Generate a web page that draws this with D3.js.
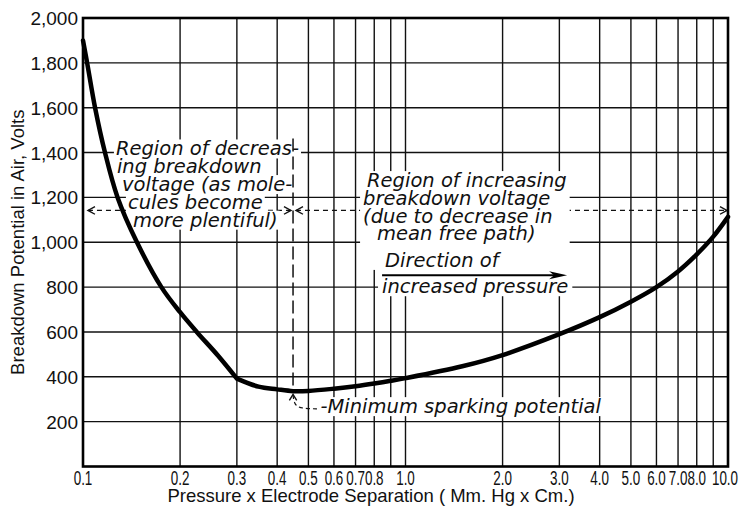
<!DOCTYPE html>
<html>
<head>
<meta charset="utf-8">
<script src="https://cdn.jsdelivr.net/npm/d3@7"></script>
<style>
  html, body { margin: 0; padding: 0; background: #fff; }
  svg { display: block; }
</style>
</head>
<body>
<svg id="chart" width="740" height="507"></svg>
<script>
// Breakdown potential of air against pressure x electrode separation (Paschen curve)
const pressureGap = [0.1, 0.103, 0.109, 0.117, 0.128, 0.147, 0.175, 0.2, 0.226, 0.262, 0.3, 0.35, 0.4, 0.448, 0.5, 0.6, 0.7, 0.8, 0.9, 1.0, 1.5, 2, 3, 4, 5, 6, 7, 8, 9, 10];
const breakdownVolts = [1900, 1800, 1600, 1400, 1200, 1000, 800, 688, 598, 495, 392, 356, 344, 336, 337, 347, 358, 370, 382, 394, 447, 497, 590, 666, 735, 800, 870, 946, 1025, 1113];
// The curve bends sharply where the falling branch meets the flat bottom
const bendPressure = 0.3;

const xGridValues = [0.2, 0.3, 0.4, 0.5, 0.6, 0.7, 0.8, 0.9, 1, 2, 3, 4, 5, 6, 7, 8, 9];
const xTickValues = [0.1, 0.2, 0.3, 0.4, 0.5, 0.6, 0.7, 0.8, 1, 2, 3, 4, 5, 6, 7, 8, 10];
const xTickLabels = ["0.1", "0.2", "0.3", "0.4", "0.5", "0.6", "0.7", "0.8", "1.0", "2.0", "3.0", "4.0", "5.0", "6.0", "7.0", "8.0", "10.0"];
const yTickValues = [200, 400, 600, 800, 1000, 1200, 1400, 1600, 1800, 2000];
const yTickLabels = ["200", "400", "600", "800", "1,000", "1,200", "1,400", "1,600", "1,800", "2,000"];

// Minimum sparking potential and the level of the two-way region arrows
const minimumPressure = 0.448;
const minimumVolts = 336;
const regionArrowVolts = 1142;
const regionDividerTopVolts = 1463;

const decreasingText = ["Region of decreas-", "ing breakdown", "voltage (as mole-", "cules become", "more plentiful)"];
const increasingText = ["Region of increasing", "breakdown voltage", "(due to decrease in", "mean free path)"];
const directionText = ["Direction of", "increased pressure"];
const minimumText = "-Minimum sparking potential";

const W = 740, H = 507;
const margin = { top: 18, right: 12, bottom: 40.5, left: 83 };

const svg = d3.select("#chart");
const x = d3.scaleLog().domain([0.1, 10]).range([margin.left, W - margin.right]);
const y = d3.scaleLinear().domain([0, 2000]).range([H - margin.bottom, margin.top]);

const ink = "#111";
const handFont = "'DejaVu Sans', sans-serif";
const labelFont = "'Liberation Sans', Arial, sans-serif";

const gGrid = svg.append("g");
const gDashH = svg.append("g");
const gBoxes = svg.append("g");
const gDashV = svg.append("g");
const gCurve = svg.append("g");
const gFrame = svg.append("g");
const gText = svg.append("g");
const gArrows = svg.append("g");

// Grid
gGrid.selectAll("line.v").data(xGridValues).join("line")
  .attr("x1", d => x(d)).attr("x2", d => x(d))
  .attr("y1", y(2000)).attr("y2", y(0))
  .attr("stroke", ink).attr("stroke-width", 1.4);
gGrid.selectAll("line.h").data(yTickValues.filter(v => v < 2000)).join("line")
  .attr("x1", x(0.1)).attr("x2", x(10))
  .attr("y1", d => y(d)).attr("y2", d => y(d))
  .attr("stroke", ink).attr("stroke-width", 1.4);

// Open chevron arrowhead with its tip at (tx, ty), pointing along angle (radians)
function chevron(g, tx, ty, angle, len = 8, spread = 0.5) {
  const a1 = angle + Math.PI - spread, a2 = angle + Math.PI + spread;
  g.append("path")
    .attr("d", `M${tx + len * Math.cos(a1)},${ty + len * Math.sin(a1)} L${tx},${ty} L${tx + len * Math.cos(a2)},${ty + len * Math.sin(a2)}`)
    .attr("fill", "none").attr("stroke", ink).attr("stroke-width", 1.4);
}

// Horizontal two-way arrows across both regions
const yArr = y(regionArrowVolts);
const leftSpan = [0.1036, 0.4415], rightSpan = [0.4575, 9.93];
[leftSpan, rightSpan].forEach(s => {
  gDashH.append("line")
    .attr("x1", x(s[0])).attr("x2", x(s[1]))
    .attr("y1", yArr).attr("y2", yArr)
    .attr("stroke", ink).attr("stroke-width", 1.2)
    .attr("stroke-dasharray", "5,4");
  chevron(gDashH, x(s[0]), yArr, Math.PI);
  chevron(gDashH, x(s[1]), yArr, 0);
});

// Vertical divider at the minimum
gDashV.append("line")
  .attr("x1", x(minimumPressure)).attr("x2", x(minimumPressure))
  .attr("y1", y(regionDividerTopVolts)).attr("y2", y(minimumVolts))
  .attr("stroke", ink).attr("stroke-width", 1.5)
  .attr("stroke-dasharray", "13,5");

// Curve: two smooth branches meeting at the bend
const pts = pressureGap.map((p, i) => [p, breakdownVolts[i]]);
const bendIdx = pressureGap.indexOf(bendPressure);
const line = d3.line().x(d => x(d[0])).y(d => y(d[1])).curve(d3.curveCatmullRom.alpha(0.5));
gCurve.append("path")
  .attr("d", line(pts.slice(0, bendIdx + 1)) + line(pts.slice(bendIdx)))
  .attr("fill", "none").attr("stroke", "#000")
  .attr("stroke-width", 4.5).attr("stroke-linejoin", "round").attr("stroke-linecap", "round");

// Frame
gFrame.append("rect")
  .attr("x", x(0.1)).attr("y", y(2000))
  .attr("width", x(10) - x(0.1)).attr("height", y(0) - y(2000))
  .attr("fill", "none").attr("stroke", "#000").attr("stroke-width", 2.6);

// Axis labels (x labels are lettered narrow)
gText.selectAll("text.xt").data(xTickValues).join("text")
  .attr("transform", d => `translate(${x(d) - (d === 10 ? 3 : 0)},485) scale(0.64,1)`)
  .attr("text-anchor", "middle")
  .attr("font-family", labelFont).attr("font-size", 21).attr("fill", ink)
  .text((d, i) => xTickLabels[i]);
gText.selectAll("text.yt").data(yTickValues).join("text")
  .attr("x", 78).attr("y", d => y(d) + 7)
  .attr("text-anchor", "end")
  .attr("font-family", labelFont).attr("font-size", 19).attr("fill", ink)
  .text((d, i) => yTickLabels[i]);
gText.append("text")
  .attr("x", 371).attr("y", 502)
  .attr("text-anchor", "middle")
  .attr("font-family", labelFont).attr("font-size", 18.5).attr("fill", ink)
  .text("Pressure x Electrode Separation ( Mm. Hg x Cm.)");
gText.append("text")
  .attr("transform", `translate(24,${y(1000)}) rotate(-90)`)
  .attr("text-anchor", "middle")
  .attr("font-family", labelFont).attr("font-size", 18.5).attr("fill", ink)
  .text("Breakdown Potential in Air, Volts");

// Annotation text block; returns the text nodes
function block(lines, px, volts, dxs, lh) {
  const x0 = x(px), y0 = y(volts);
  return lines.map((t, i) => gText.append("text")
    .attr("x", x0 + dxs[i]).attr("y", y0 + i * lh)
    .attr("font-family", handFont).attr("font-style", "italic")
    .attr("font-size", 19.5).attr("fill", ink)
    .text(t).node());
}
function boxFor(nodes, pad) {
  const bbs = nodes.map(n => n.getBBox());
  const x0 = d3.min(bbs, b => b.x) - pad, x1 = d3.max(bbs, b => b.x + b.width) + pad;
  const y0 = d3.min(bbs, b => b.y) + 2, y1 = d3.max(bbs, b => b.y + b.height) - 2;
  gBoxes.append("rect").attr("x", x0).attr("y", y0).attr("width", x1 - x0).attr("height", y1 - y0).attr("fill", "#fff");
}

const decNodes = block(decreasingText, 0.1265, 1387, [0, 1, 6, 12, 17], 17.8);
decNodes.forEach(n => boxFor([n], 2));
const incNodes = block(increasingText, 0.760, 1246, [0, -4, -4, 10], 17.8);
const dirNodes = block(directionText, 0.864, 890, [0, -3], 26.3);
boxFor(incNodes.concat(dirNodes.slice(0, 1)), 3);
boxFor(dirNodes, 4);
const minNodes = block([minimumText], 0.545, 238, [0], 0);
boxFor(minNodes, 2);

// Direction arrow
const yDir = y(853);
gArrows.append("line")
  .attr("x1", x(0.846)).attr("x2", x(3.0))
  .attr("y1", yDir).attr("y2", yDir)
  .attr("stroke", "#000").attr("stroke-width", 2);
gArrows.append("path")
  .attr("d", `M${x(3.17)},${yDir} L${x(3.17) - 18},${yDir - 4} L${x(3.17) - 13},${yDir} L${x(3.17) - 18},${yDir + 4} Z`)
  .attr("fill", "#000");

// Leader from the label up to the minimum
const leader = [[0.448, 318], [0.452, 275], [0.475, 258], [0.54, 257]];
gArrows.append("path")
  .attr("d", d3.line().x(d => x(d[0])).y(d => y(d[1])).curve(d3.curveBasis)(leader))
  .attr("fill", "none").attr("stroke", ink).attr("stroke-width", 1.2)
  .attr("stroke-dasharray", "4,3");
chevron(gArrows, x(0.448), y(322), -Math.PI / 2, 7, 0.55);
</script>
</body>
</html>
